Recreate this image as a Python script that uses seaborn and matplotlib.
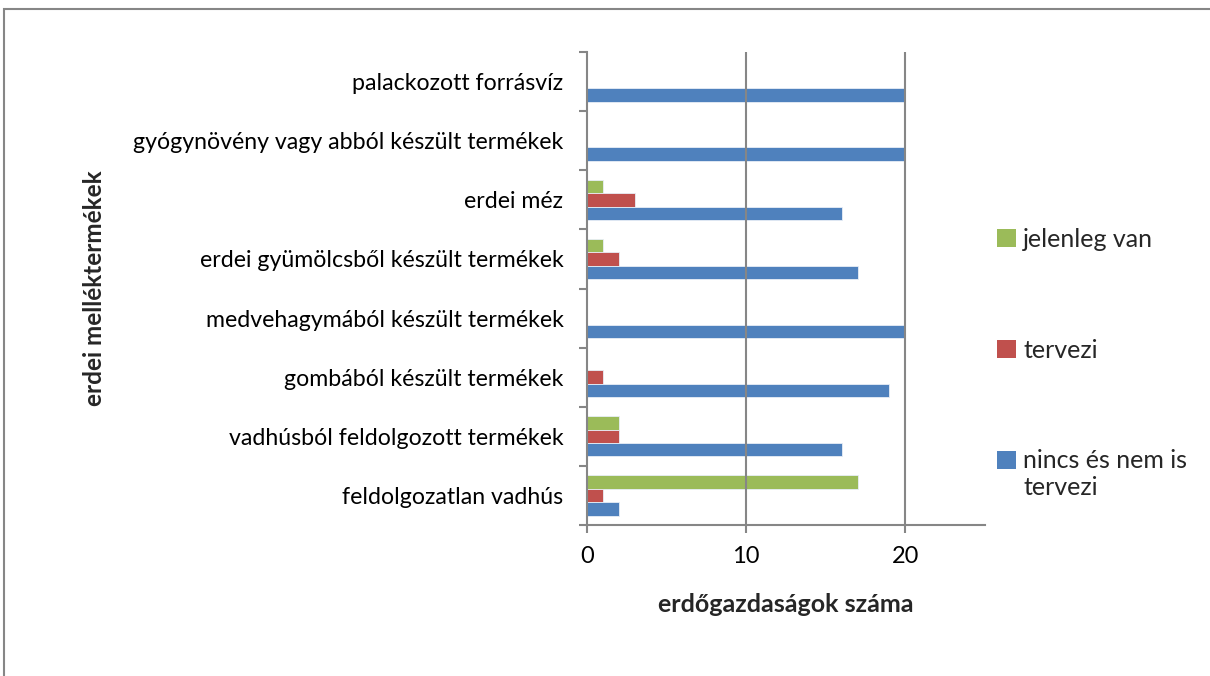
import matplotlib
matplotlib.use("Agg")
import matplotlib.pyplot as plt
import seaborn as sns
import pandas as pd
from matplotlib.patches import Rectangle, Patch

categories = [
    "palackozott forrásvíz",
    "gyógynövény vagy abból készült termékek",
    "erdei méz",
    "erdei gyümölcsből készült termékek",
    "medvehagymából készült termékek",
    "gombából készült termékek",
    "vadhúsból feldolgozott termékek",
    "feldolgozatlan vadhús",
]
series_names = ["jelenleg van", "tervezi", "nincs és nem is\ntervezi"]
jelenleg_van = [0, 0, 1, 1, 0, 0, 2, 17]
tervezi = [0, 0, 3, 2, 0, 1, 2, 1]
nincs = [20, 20, 16, 17, 20, 19, 16, 2]
x_ticks = [0, 10, 20]
x_label = "erdőgazdaságok száma"
y_label = "erdei melléktermékek"

colors = {series_names[0]: "#9BBB59", series_names[1]: "#C0504D", series_names[2]: "#4F81BD"}

rows = []
for name, vals in zip(series_names, [jelenleg_van, tervezi, nincs]):
    for c, v in zip(categories, vals):
        rows.append({"kategoria": c, "sorozat": name, "ertek": v})
df = pd.DataFrame(rows)

sns.set_theme(style="white")
plt.rcParams["font.family"] = ["Lato", "DejaVu Sans"]

W, H = 1210, 676
fig = plt.figure(figsize=(W / 100, H / 100), dpi=100)
ax = fig.add_axes([587 / W, 1 - 525 / H, (985 - 587) / W, (525 - 52) / H])

sns.barplot(data=df, y="kategoria", x="ertek", hue="sorozat", order=categories,
            hue_order=series_names, palette=colors, orient="h", width=0.68,
            edgecolor="#e8eef7", linewidth=0.6, saturation=1, ax=ax, legend=False)

ax.set_xlim(0, 25)
ax.set_ylim(len(categories) - 0.5, -0.5)
ax.set_xticks(x_ticks)
ax.set_xticklabels([str(t) for t in x_ticks], fontsize=17, color="black")
ax.tick_params(axis="x", length=6, width=1.5, color="#868686", pad=9, direction="out", bottom=True)
ax.tick_params(axis="y", which="major", length=0, pad=17, labelsize=16.7, labelcolor="black")
ax.set_yticks([i + 0.5 for i in range(-1, len(categories))], minor=True)
ax.tick_params(axis="y", which="minor", length=6, width=1.5, color="#868686", left=True)

ax.grid(False)
for t in x_ticks[1:]:
    ax.axvline(t, color="#868686", lw=1.5, zorder=3)

for s in ["top", "right"]:
    ax.spines[s].set_visible(False)
for s in ["left", "bottom"]:
    ax.spines[s].set_color("#868686")
    ax.spines[s].set_linewidth(1.5)

ax.set_xlabel(x_label, fontsize=18, fontweight="bold", labelpad=19)
ax.set_ylabel(y_label, fontsize=17.5, fontweight="bold", ha="center", va="center")
ax.yaxis.set_label_coords((95 - 587) / (985 - 587), 0.5)

handles = [Patch(facecolor=colors[n], edgecolor="none") for n in series_names]
leg = fig.legend(handles, series_names, loc="upper left",
                 bbox_to_anchor=(987 / W, 1 - 218 / H), frameon=False,
                 fontsize=18, handlelength=0.75, handleheight=0.75,
                 handletextpad=0.3, labelspacing=3.5, borderaxespad=0)
h3 = leg.legend_handles[2]
h3.set_y(h3.get_y() + 10.8)

fig.patches.append(Rectangle((3.5 / W, -0.1), 1.2, (1 - 9 / H) + 0.1, transform=fig.transFigure,
                             fill=False, edgecolor="#868686", lw=1.5))

fig.savefig("out.png", dpi=100)
